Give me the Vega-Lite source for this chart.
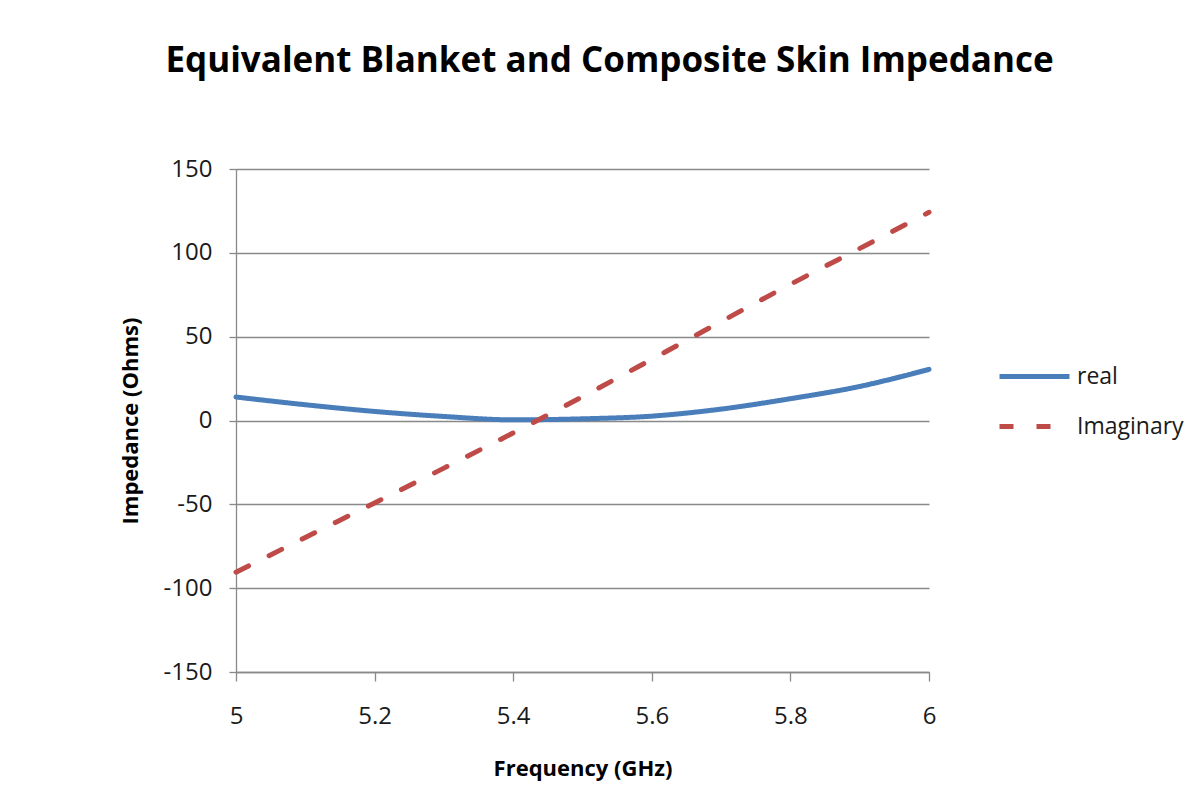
{
  "$schema": "https://vega.github.io/schema/vega-lite/v6.json",
  "autosize": "none",
  "width": 693,
  "height": 503,
  "padding": {"left": 236, "top": 169, "right": 275, "bottom": 113},
  "background": "white",
  "title": {
    "text": "Equivalent Blanket and Composite Skin Impedance",
    "font": "Open Sans",
    "fontSize": 35,
    "fontWeight": "bold",
    "color": "#000000",
    "anchor": "middle",
    "frame": "group",
    "baseline": "alphabetic",
    "offset": 96,
    "dx": 27,
    "dy": 46
  },
  "data": {
    "values": [
      {"freq": 5.0, "value": 14.0, "series": "real"},
      {"freq": 5.1, "value": 9.4, "series": "real"},
      {"freq": 5.2, "value": 5.4, "series": "real"},
      {"freq": 5.3, "value": 2.4, "series": "real"},
      {"freq": 5.4, "value": 0.4, "series": "real"},
      {"freq": 5.5, "value": 1.0, "series": "real"},
      {"freq": 5.6, "value": 2.6, "series": "real"},
      {"freq": 5.7, "value": 6.8, "series": "real"},
      {"freq": 5.8, "value": 13.0, "series": "real"},
      {"freq": 5.9, "value": 20.3, "series": "real"},
      {"freq": 6.0, "value": 30.5, "series": "real"},
      {"freq": 5.0, "value": -90.5, "series": "Imaginary"},
      {"freq": 5.1, "value": -69.8, "series": "Imaginary"},
      {"freq": 5.2, "value": -49.2, "series": "Imaginary"},
      {"freq": 5.3, "value": -28.4, "series": "Imaginary"},
      {"freq": 5.4, "value": -7.4, "series": "Imaginary"},
      {"freq": 5.5, "value": 14.2, "series": "Imaginary"},
      {"freq": 5.6, "value": 36.5, "series": "Imaginary"},
      {"freq": 5.7, "value": 59.0, "series": "Imaginary"},
      {"freq": 5.8, "value": 81.2, "series": "Imaginary"},
      {"freq": 5.9, "value": 102.6, "series": "Imaginary"},
      {"freq": 6.0, "value": 124.2, "series": "Imaginary"}
    ]
  },
  "mark": {"type": "line", "strokeWidth": 5, "strokeCap": "round", "interpolate": "monotone"},
  "encoding": {
    "x": {
      "field": "freq",
      "type": "quantitative",
      "scale": {"domain": [5, 6], "nice": false, "zero": false},
      "axis": {
        "title": "Frequency (GHz)",
        "values": [5, 5.2, 5.4, 5.6, 5.8, 6],
        "format": ".1~f",
        "labelFlush": false,
        "grid": false,
        "tickSize": 9,
        "labelPadding": 23,
        "titlePadding": 30
      }
    },
    "y": {
      "field": "value",
      "type": "quantitative",
      "scale": {"domain": [-150, 150], "nice": false},
      "axis": {
        "title": "Impedance (Ohms)",
        "values": [-150, -100, -50, 0, 50, 100, 150],
        "labelExpr": "datum.value + ''",
        "grid": true,
        "tickSize": 7,
        "labelPadding": 17,
        "titlePadding": 21
      }
    },
    "color": {
      "field": "series",
      "type": "nominal",
      "sort": ["real", "Imaginary"],
      "scale": {"domain": ["real", "Imaginary"], "range": ["#4A7EBB", "#BE4B48"]},
      "legend": {
        "title": null,
        "orient": "none",
        "legendX": 761,
        "legendY": 170,
        "symbolType": "stroke",
        "symbolSize": 4900,
        "symbolStrokeWidth": 5,
        "labelOffset": 5,
        "rowPadding": -23
      }
    },
    "strokeDash": {
      "field": "series",
      "type": "nominal",
      "sort": ["real", "Imaginary"],
      "scale": {"domain": ["real", "Imaginary"], "range": [[1, 0], [14, 23]]},
      "legend": null
    }
  },
  "config": {
    "view": {"stroke": null},
    "axis": {
      "labelFont": "Open Sans",
      "labelFontSize": 24,
      "labelColor": "#1a1a1a",
      "titleFont": "Open Sans",
      "titleFontSize": 22,
      "titleFontWeight": "bold",
      "titleColor": "#000000",
      "domainColor": "#898989",
      "domainWidth": 1.3,
      "tickColor": "#898989",
      "tickWidth": 1.3,
      "gridColor": "#898989",
      "gridWidth": 1.3,
      "gridOpacity": 1
    },
    "legend": {
      "labelFont": "Open Sans",
      "labelFontSize": 23,
      "labelColor": "#1a1a1a"
    }
  }
}
